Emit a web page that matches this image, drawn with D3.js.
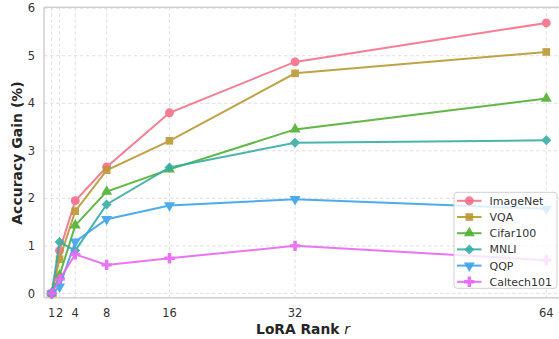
<!DOCTYPE html>
<html>
<head>
<meta charset="utf-8">
<script src="https://cdn.jsdelivr.net/npm/d3@7"></script>
<style>
  html, body { margin: 0; padding: 0; background: #fff; }
  svg { display: block; font-family: "DejaVu Sans", sans-serif; }
</style>
</head>
<body>
<svg id="chart" width="559" height="339"></svg>
<script>
// LoRA rank sweep: accuracy gain per dataset
const ranks = [1, 2, 4, 8, 16, 32, 64];
const xTicks = [1, 2, 4, 8, 16, 32, 64];
const yTicks = [0, 1, 2, 3, 4, 5, 6];

const seriesNames = ["ImageNet", "VQA", "Cifar100", "MNLI", "QQP", "Caltech101"];
const imagenet   = [0, 0.90, 1.95, 2.66, 3.80, 4.87, 5.69];
const vqa        = [0, 0.72, 1.73, 2.59, 3.21, 4.63, 5.08];
const cifar100   = [0, 0.38, 1.43, 2.14, 2.61, 3.45, 4.10];
const mnli       = [0, 1.08, 0.90, 1.87, 2.65, 3.17, 3.22];
const qqp        = [0, 0.14, 1.09, 1.56, 1.85, 1.98, 1.78];
const caltech101 = [0, 0.30, 0.82, 0.60, 0.74, 1.00, 0.70];

const colors  = ["#f77189", "#bb9832", "#50b131", "#36ada4", "#3ba3ec", "#e866f4"];
const symbols = ["circle", "square", "triangleUp", "diamond", "triangleDown", "plus"];

const series = [imagenet, vqa, cifar100, mnli, qqp, caltech101].map((vals, i) => ({
  name: seriesNames[i], color: colors[i], symbol: symbols[i],
  points: ranks.map((r, j) => ({ r, v: vals[j] }))
}));

const svg = d3.select("#chart");

// plot frame
const frame = { left: 44, right: 566, top: 7.3, bottom: 297.7 };
const x = d3.scaleLinear().domain([1, 64]).range([51.7, 546.3]);
const y = d3.scaleLinear().domain([0, 6]).range([293.4, 8.2]);

svg.append("defs").append("clipPath").attr("id", "plotclip")
  .append("rect")
  .attr("x", frame.left).attr("y", frame.top - 6)
  .attr("width", frame.right - frame.left).attr("height", frame.bottom - frame.top + 12);

// grid
const grid = svg.append("g");
grid.selectAll("line.gx").data(xTicks).join("line")
  .attr("x1", d => x(d)).attr("x2", d => x(d))
  .attr("y1", frame.top).attr("y2", frame.bottom)
  .attr("stroke", "#dcdcdc").attr("stroke-width", 0.9).attr("stroke-dasharray", "3.5,2.5");
grid.selectAll("line.gy").data(yTicks).join("line")
  .attr("x1", frame.left).attr("x2", frame.right)
  .attr("y1", d => y(d)).attr("y2", d => y(d))
  .attr("stroke", "#dcdcdc").attr("stroke-width", 0.9).attr("stroke-dasharray", "3.5,2.5");

// spines
const spine = "#cfcfcf";
svg.append("line").attr("x1", frame.left).attr("x2", frame.right).attr("y1", frame.bottom).attr("y2", frame.bottom)
  .attr("stroke", spine).attr("stroke-width", 1.5);
svg.append("line").attr("x1", frame.left).attr("x2", frame.right).attr("y1", frame.top).attr("y2", frame.top)
  .attr("stroke", spine).attr("stroke-width", 1.5);
svg.append("line").attr("x1", frame.left).attr("x2", frame.left).attr("y1", frame.top).attr("y2", frame.bottom)
  .attr("stroke", spine).attr("stroke-width", 1.5);

// tick labels
const tickColor = "#333";
svg.append("g").selectAll("text").data(yTicks).join("text")
  .attr("x", 35).attr("y", d => y(d)).attr("dy", "0.36em")
  .attr("text-anchor", "end").attr("font-size", 11.5).attr("fill", tickColor)
  .text(d => d);
svg.append("g").selectAll("text").data(xTicks).join("text")
  .attr("x", d => x(d)).attr("y", 316.5)
  .attr("text-anchor", "middle").attr("font-size", 11.5).attr("fill", tickColor)
  .text(d => d);

// axis titles
svg.append("text").attr("transform", "translate(22,153) rotate(-90)")
  .attr("text-anchor", "middle").attr("font-size", 14).attr("font-weight", "bold").attr("fill", "#262626")
  .text("Accuracy Gain (%)");
const xl = svg.append("text").attr("x", 303).attr("y", 333.5)
  .attr("text-anchor", "middle").attr("font-size", 13.8).attr("font-weight", "bold").attr("fill", "#262626");
xl.append("tspan").text("LoRA Rank ");
xl.append("tspan").attr("font-style", "italic").attr("font-weight", "normal").text("r");

// marker shapes
function markerPath(sym) {
  const s = {
    circle: d3.symbolCircle, square: d3.symbolSquare, triangleUp: d3.symbolTriangle,
    diamond: d3.symbolSquare, triangleDown: d3.symbolTriangle, plus: d3.symbolCross
  }[sym];
  const size = { circle: 62, square: 58, triangleUp: 52, diamond: 50, triangleDown: 52, plus: 60 }[sym];
  return d3.symbol().type(s).size(size)();
}
function markerTransform(sym, px, py) {
  if (sym === "triangleDown") return `translate(${px},${py}) rotate(180)`;
  if (sym === "diamond") return `translate(${px},${py}) rotate(45)`;
  return `translate(${px},${py})`;
}

// lines and markers
const line = d3.line().x(d => x(d.r)).y(d => y(d.v));
const plot = svg.append("g").attr("clip-path", "url(#plotclip)");
series.forEach(s => {
  const g = plot.append("g").attr("opacity", 0.9);
  g.append("path").datum(s.points).attr("d", line)
    .attr("fill", "none").attr("stroke", s.color).attr("stroke-width", 2);
  g.selectAll("path.m").data(s.points).join("path")
    .attr("d", markerPath(s.symbol))
    .attr("transform", d => markerTransform(s.symbol, x(d.r), y(d.v)))
    .attr("fill", s.color);
});

// legend
const lg = svg.append("g");
lg.append("rect").attr("x", 454).attr("y", 192.3).attr("width", 103).attr("height", 96)
  .attr("rx", 3).attr("fill", "#fff").attr("fill-opacity", 0.8)
  .attr("stroke", "#d0d0d0").attr("stroke-width", 1);
series.forEach((s, i) => {
  const cy = 200.8 + i * 16.2;
  const row = lg.append("g");
  row.append("line").attr("x1", 457).attr("x2", 481.5).attr("y1", cy).attr("y2", cy)
    .attr("stroke", s.color).attr("stroke-width", 2).attr("opacity", 0.9);
  row.append("path").attr("d", markerPath(s.symbol))
    .attr("transform", markerTransform(s.symbol, 469.3, cy)).attr("fill", s.color).attr("opacity", 0.9);
  row.append("text").attr("x", 489.5).attr("y", cy).attr("dy", "0.36em")
    .attr("font-size", 11).attr("fill", tickColor).text(s.name);
});
</script>
</body>
</html>
